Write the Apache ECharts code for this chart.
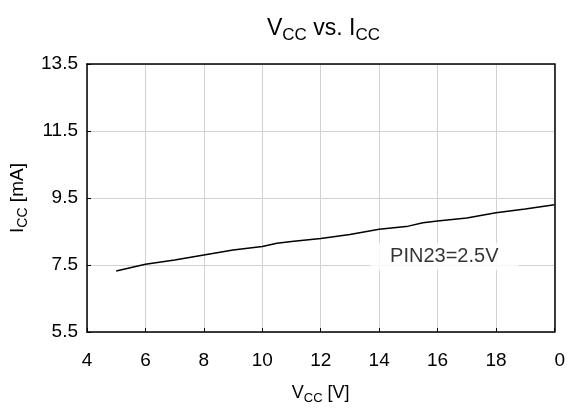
<!DOCTYPE html>
<html>
<head>
<meta charset="utf-8">
<script src="https://cdn.jsdelivr.net/npm/echarts@6/dist/echarts.min.js"></script>
<style>
  html, body { margin: 0; padding: 0; background: #fff; }
  #chart { width: 568px; height: 411px; }
</style>
</head>
<body>
<div id="chart"></div>
<script>
// supply voltage [V] and supply current [mA]
const vcc = [5, 6, 7, 8, 9, 10, 10.5, 11, 12, 13, 14, 15, 15.5, 16, 17, 18, 19, 20];
const icc = [7.32, 7.52, 7.65, 7.8, 7.95, 8.05, 8.15, 8.2, 8.29, 8.41, 8.57, 8.66, 8.76, 8.81, 8.9, 9.06, 9.17, 9.3];

const xTickLabels = ["4", "6", "8", "10", "12", "14", "16", "18", "20"];
const yTickLabels = ["5.5", "7.5", "9.5", "11.5", "13.5"];

// note box
const noteText = "PIN23=2.5V";
const notePos = [16.23, 7.75];

const font = "Liberation Sans, Arial, sans-serif";

const chart = echarts.init(document.getElementById("chart"));

const option = {
  backgroundColor: "#fff",
  animation: false,
  textStyle: { fontFamily: font },
  title: {
    text: "{m|V}{s|CC}{m| vs. I}{s|CC}",
    left: 262,
    top: 9,
    textStyle: {
      fontWeight: "normal",
      rich: {
        m: { fontSize: 23, color: "#000", fontFamily: font, fontWeight: "normal", lineHeight: 30 },
        s: { fontSize: 17, color: "#000", fontFamily: font, fontWeight: "normal", lineHeight: 14, verticalAlign: "bottom" }
      }
    }
  },
  grid: { left: 87, right: 10, top: 64, bottom: 79 },
  xAxis: [
    {
      type: "value",
      min: 4,
      max: 20,
      interval: 2,
      name: "{m|V}{s|CC}{m| [V]}",
      nameLocation: "middle",
      nameGap: 49,
      nameTextStyle: {
        rich: {
          m: { fontSize: 18, color: "#000", fontFamily: font, lineHeight: 24 },
          s: { fontSize: 13, color: "#000", fontFamily: font, lineHeight: 12, verticalAlign: "bottom" }
        }
      },
      axisLine: { show: true, onZero: false, lineStyle: { color: "#000", width: 1.5 } },
      axisTick: { show: true, inside: true, length: 4, lineStyle: { color: "#000" } },
      axisLabel: {
        fontSize: 19,
        color: "#000",
        margin: 19,
        formatter: (v) => {
          const i = Math.round((v - 4) / 2);
          const t = xTickLabels[i];
          // the leading digit of the last label is hidden in the source
          return t === "20" ? "{h|2}{n|0}" : "{n|" + t + "}";
        },
        rich: {
          n: { fontSize: 19, color: "#000", fontFamily: font },
          h: { fontSize: 19, color: "rgba(0,0,0,0)", fontFamily: font }
        }
      },
      splitLine: { show: true, lineStyle: { color: "#d2d2d2", width: 1 } }
    },
    {
      type: "value",
      position: "top",
      min: 4,
      max: 20,
      interval: 2,
      axisLine: { show: true, onZero: false, lineStyle: { color: "#000", width: 1.5 } },
      axisTick: { show: false },
      axisLabel: { show: false },
      splitLine: { show: false }
    }
  ],
  yAxis: [
    {
      type: "value",
      min: 5.5,
      max: 13.5,
      interval: 2,
      name: "{m|I}{s|CC}{m| [mA]}",
      nameLocation: "middle",
      nameRotate: 90,
      nameGap: 56,
      nameTextStyle: {
        rich: {
          m: { fontSize: 19, color: "#000", fontFamily: font, lineHeight: 24 },
          s: { fontSize: 14, color: "#000", fontFamily: font, lineHeight: 12, verticalAlign: "bottom" }
        }
      },
      axisLine: { show: true, onZero: false, lineStyle: { color: "#000", width: 1.5 } },
      axisTick: { show: true, inside: true, length: 4, lineStyle: { color: "#000" } },
      axisLabel: {
        fontSize: 19,
        color: "#000",
        margin: 9,
        formatter: (v) => yTickLabels[Math.round((v - 5.5) / 2)]
      },
      splitLine: { show: true, lineStyle: { color: "#d2d2d2", width: 1 } }
    },
    {
      type: "value",
      position: "right",
      min: 5.5,
      max: 13.5,
      interval: 2,
      axisLine: { show: true, onZero: false, lineStyle: { color: "#000", width: 1.5 } },
      axisTick: { show: false },
      axisLabel: { show: false },
      splitLine: { show: false }
    }
  ],
  series: [
    {
      type: "line",
      data: vcc.map((v, i) => [v, icc[i]]),
      showSymbol: false,
      symbol: "none",
      lineStyle: { color: "#000", width: 1.5 },
      z: 3
    },
    {
      type: "scatter",
      data: [notePos],
      symbolSize: 0,
      silent: true,
      z: 4,
      label: {
        show: true,
        position: "inside",
        formatter: noteText,
        fontSize: 20,
        fontFamily: font,
        color: "#000",
        backgroundColor: "#fff",
        padding: [4, 20, 3, 20]
      }
    }
  ]
};

chart.setOption(option);
</script>
</body>
</html>
